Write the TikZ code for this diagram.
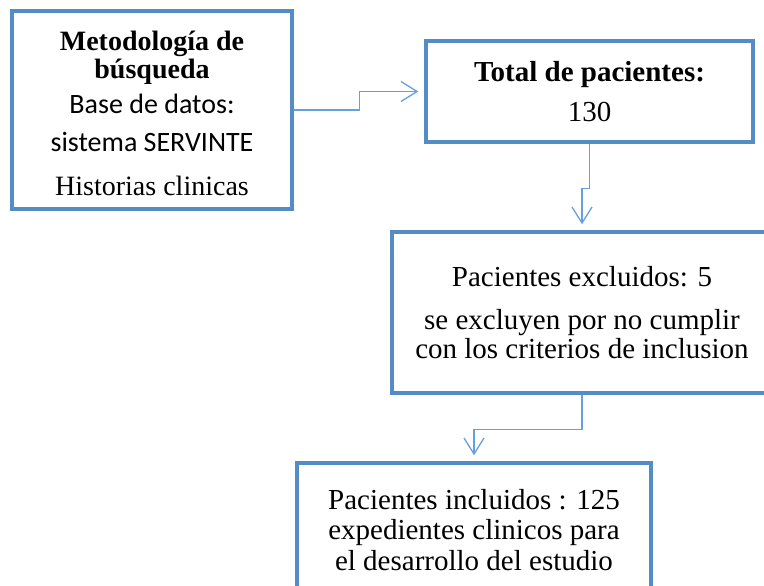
\documentclass[tikz,border=0pt]{standalone}
\usepackage{fontspec}
\setmainfont{Liberation Serif}
\newfontfamily\calibri{Carlito}
\usetikzlibrary{arrows.meta}
\definecolor{bordeazul}{RGB}{84,140,198}
\definecolor{flechaazul}{RGB}{100,160,222}

\begin{document}
\begin{tikzpicture}[x=1pt, y=-1pt,
    caja/.style={draw=bordeazul, line width=3.5pt, align=center, inner sep=0pt},
    enlace/.style={draw=flechaazul, line width=1.3pt, -{Straight Barb[length=16pt, width=20pt]}, shorten >=6pt}]
                \useasboundingbox (0,0) rectangle (764,586);
                \clip (0,0) rectangle (764,586);

                % Metodologia
                \node[caja, minimum width=280pt, minimum height=198pt, font=\fontsize{28}{26}\selectfont] (metodo) at (152,110)
                    {\rule{0pt}{26pt}\textbf{Metodología de}\\[2pt] \textbf{búsqueda}\\[8.7pt]
                     {\calibri Base de datos:}\\[12pt] {\calibri sistema SERVINTE}\\[17.7pt] Historias clinicas};

                % Total
                \node[caja, minimum width=327pt, minimum height=101pt, font=\fontsize{29}{40}\selectfont] (total) at (589.5,91.5)
                    {\textbf{Total de pacientes:}\\ 130};

                % Excluidos
                \node[caja, minimum width=380pt, minimum height=161pt, font=\fontsize{29}{29}\selectfont] (excluidos) at (582,312.5)
                    {Pacientes excluidos: 5\\[14pt] se excluyen por no cumplir\\ con los criterios de inclusion};

                % Incluidos
                \node[caja, minimum width=354pt, minimum height=134pt, font=\fontsize{29}{30.5}\selectfont] (incluidos) at (474,530)
                    {Pacientes incluidos : 125\\ expedientes clinicos para\\ el desarrollo del estudio};

                % Flechas
                \draw[enlace] (metodo.east) -- ++(66,0) |- (total.west);
                \draw[enlace] (total.south) -- ++(0,45) -| (excluidos.north);
                \draw[enlace] (excluidos.south) -- ++(0,35) -| (incluidos.north);
\end{tikzpicture}
\end{document}
